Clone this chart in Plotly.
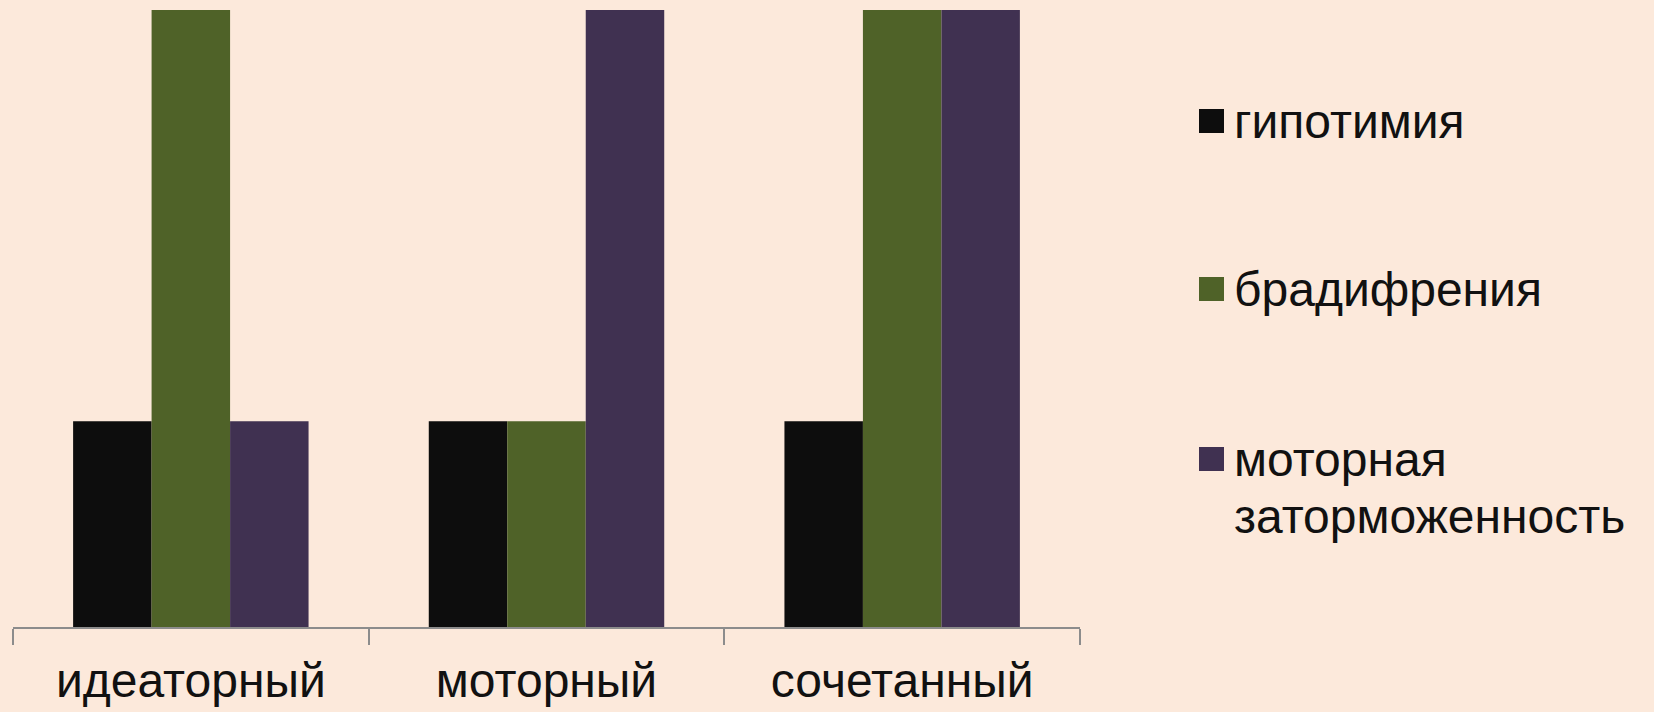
import plotly.graph_objects as go

categories = ["идеаторный", "моторный", "сочетанный"]
series_names = ["гипотимия", "брадифрения", "моторная<br>заторможенность"]
gipotimia = [1, 1, 1]
bradifrenia = [3, 1, 3]
motor_zat = [1, 3, 3]
colors = ["#0D0D0D", "#4F6228", "#403151"]
values = [gipotimia, bradifrenia, motor_zat]

W, H = 1654, 712
L, R, T, B = 13, 1080, 10, 627
BG = "#FCE9DB"
FONT = "Liberation Sans, Arial, sans-serif"

fig = go.Figure()
for name, vals, c in zip(series_names, values, colors):
    fig.add_trace(go.Bar(x=categories, y=vals, name=name, marker=dict(color=c, line=dict(width=0)),
                         showlegend=False))

def px2x(px):
    return (px - L) / (R - L)

def py2y(py):
    return 1 - (py - T) / (B - T)

shapes = []
annotations = []
legend_y = [121, 289, 459]
line_step = 57
for name, c, yc in zip(series_names, colors, legend_y):
    shapes.append(dict(type="rect", xref="paper", yref="paper",
                       x0=px2x(1199), x1=px2x(1224), y0=py2y(yc - 12), y1=py2y(yc + 12),
                       fillcolor=c, line=dict(width=0)))
    for i, line in enumerate(name.split("<br>")):
        annotations.append(dict(xref="paper", yref="paper", x=px2x(1232),
                                y=py2y(yc + i * line_step),
                                yanchor="middle", xanchor="left",
                                align="left", showarrow=False, text=line,
                                font=dict(family=FONT, size=48, color="#111111")))

fig.update_layout(
    width=W, height=H,
    margin=dict(l=L, r=W - R, t=T, b=H - B, pad=0, autoexpand=False),
    paper_bgcolor=BG, plot_bgcolor=BG,
    barmode="group", bargap=0.338, bargroupgap=0,
    shapes=shapes, annotations=annotations,
    font=dict(family=FONT, size=48, color="#111111"),
)
fig.update_xaxes(showline=True, linecolor="#8C8C8C", linewidth=1.5,
                 ticks="outside", tickson="boundaries", ticklen=16, tickcolor="#8C8C8C",
                 tickwidth=1.5, tickfont=dict(family=FONT, size=48, color="#111111"),
                 ticklabelstandoff=11, showgrid=False, automargin=False)
fig.update_yaxes(visible=False, range=[0, 3], showgrid=False, automargin=False)

fig.write_html("out.html", config={"displayModeBar": False},
               post_script="document.body.style.margin='0';document.documentElement.style.background='%s';" % BG)
